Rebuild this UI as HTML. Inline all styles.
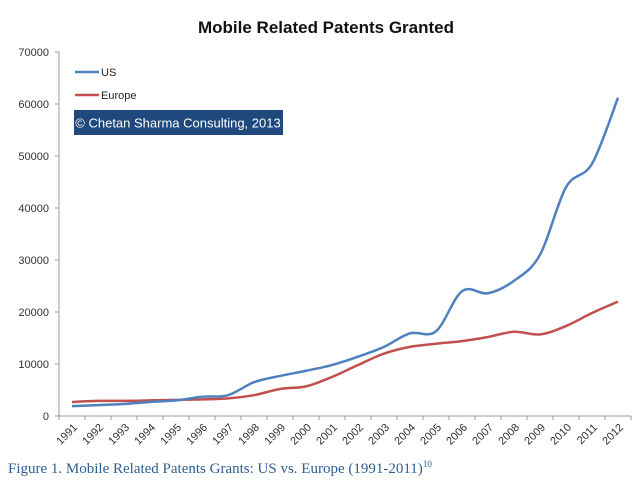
<!DOCTYPE html>
<html><head><meta charset="utf-8"><style>
body{margin:0;background:#fff;width:640px;height:485px;overflow:hidden}
svg{display:block}
</style></head><body>
<svg width="640" height="485" id="c" font-family="Liberation Sans, sans-serif">
<text x="326" y="33" text-anchor="middle" font-size="17" font-weight="bold" fill="#111">Mobile Related Patents Granted</text>
<line x1="59" y1="52" x2="59" y2="416" stroke="#999"/>
<line x1="59" y1="416" x2="631" y2="416" stroke="#999"/>
<g id="yt"></g><g id="xt"></g><g id="lines"></g>
<line x1="75" y1="72" x2="99" y2="72" stroke="#4f81bd" stroke-width="2.5"/>
<text x="101" y="76" font-size="11" fill="#222">US</text>
<line x1="75" y1="95" x2="99" y2="95" stroke="#c0504d" stroke-width="2.5"/>
<text x="101" y="99" font-size="11" fill="#222">Europe</text>
<rect x="74" y="110" width="209" height="25" fill="#1f497d"/>
<text x="178" y="127.5" text-anchor="middle" font-size="13" fill="#fff">© Chetan Sharma Consulting, 2013</text>
<text x="8" y="473" font-family="Liberation Serif, serif" font-size="15" fill="#2e5f8f">Figure 1. Mobile Related Patents Grants: US vs. Europe (1991-2011)<tspan font-size="9" dy="-6">10</tspan></text>
</svg>
<script>
const years=[1991,1992,1993,1994,1995,1996,1997,1998,1999,2000,2001,2002,2003,2004,2005,2006,2007,2008,2009,2010,2011,2012];
const usValues=[1900,2100,2300,2700,3000,3700,4000,6500,7700,8700,9800,11400,13300,15900,16300,24000,23600,26000,31000,44000,48500,61200];
const europeValues=[2700,2900,2900,3000,3100,3200,3400,4000,5200,5700,7500,9800,12000,13300,13900,14400,15200,16200,15700,17300,19800,22000];
const yTicks=[0,10000,20000,30000,40000,50000,60000,70000];
const NS="http://www.w3.org/2000/svg";
const x0=59,step=26,yBase=416,yTop=52,yMax=70000;
const xs=i=>x0+step/2+i*step;
const ys=v=>yBase-(v/yMax)*(yBase-yTop);
const yt=document.getElementById('yt'),xt=document.getElementById('xt'),lg=document.getElementById('lines');
yTicks.forEach(v=>{
 const t=document.createElementNS(NS,'text');
 
 
 t.setAttribute('x',49);t.setAttribute('y',ys(v)+4);t.setAttribute('text-anchor','end');
 t.setAttribute('font-size','11');t.setAttribute('fill','#333');t.textContent=v;yt.appendChild(t);
 const l=document.createElementNS(NS,'line');
 
 
 l.setAttribute('x1',55);l.setAttribute('x2',59);l.setAttribute('y1',ys(v));l.setAttribute('y2',ys(v));l.setAttribute('stroke','#999');yt.appendChild(l);
});
for(let i=0;i<=years.length;i++){
 const l=document.createElementNS(NS,'line');
 
 
 l.setAttribute('x1',x0+i*step);l.setAttribute('x2',x0+i*step);l.setAttribute('y1',416);l.setAttribute('y2',420);l.setAttribute('stroke','#999');xt.appendChild(l);
}
years.forEach((y,i)=>{
 const t=document.createElementNS(NS,'text');
 
 
 const x=xs(i)+6,yy=428;
 t.setAttribute('x',x);t.setAttribute('y',yy);t.setAttribute('text-anchor','end');
 t.setAttribute('transform','rotate(-45 '+x+' '+yy+')');
 t.setAttribute('font-size','11');t.setAttribute('fill','#333');t.textContent=y;xt.appendChild(t);
});
function path(vals){
 const p=vals.map((v,i)=>[xs(i),ys(v)]);
 let d='M'+p[0][0]+','+p[0][1];
 for(let i=0;i<p.length-1;i++){
  const a=p[Math.max(i-1,0)],b=p[i],c=p[i+1],e=p[Math.min(i+2,p.length-1)];
  const c1=[b[0]+(c[0]-a[0])/6,b[1]+(c[1]-a[1])/6],c2=[c[0]-(e[0]-b[0])/6,c[1]-(e[1]-b[1])/6];
  d+=' C'+c1+' '+c2+' '+c;
 }
 return d;
}
[[europeValues,'#c0504d','europe-line'],[usValues,'#4f81bd','us-line']].forEach(s=>{
 const pth=document.createElementNS(NS,'path');
 
 
 pth.setAttribute('d',path(s[0]));pth.setAttribute('fill','none');pth.setAttribute('stroke',s[1]);pth.setAttribute('stroke-width','2.5');
 lg.appendChild(pth);
});
</script>
</body></html>
